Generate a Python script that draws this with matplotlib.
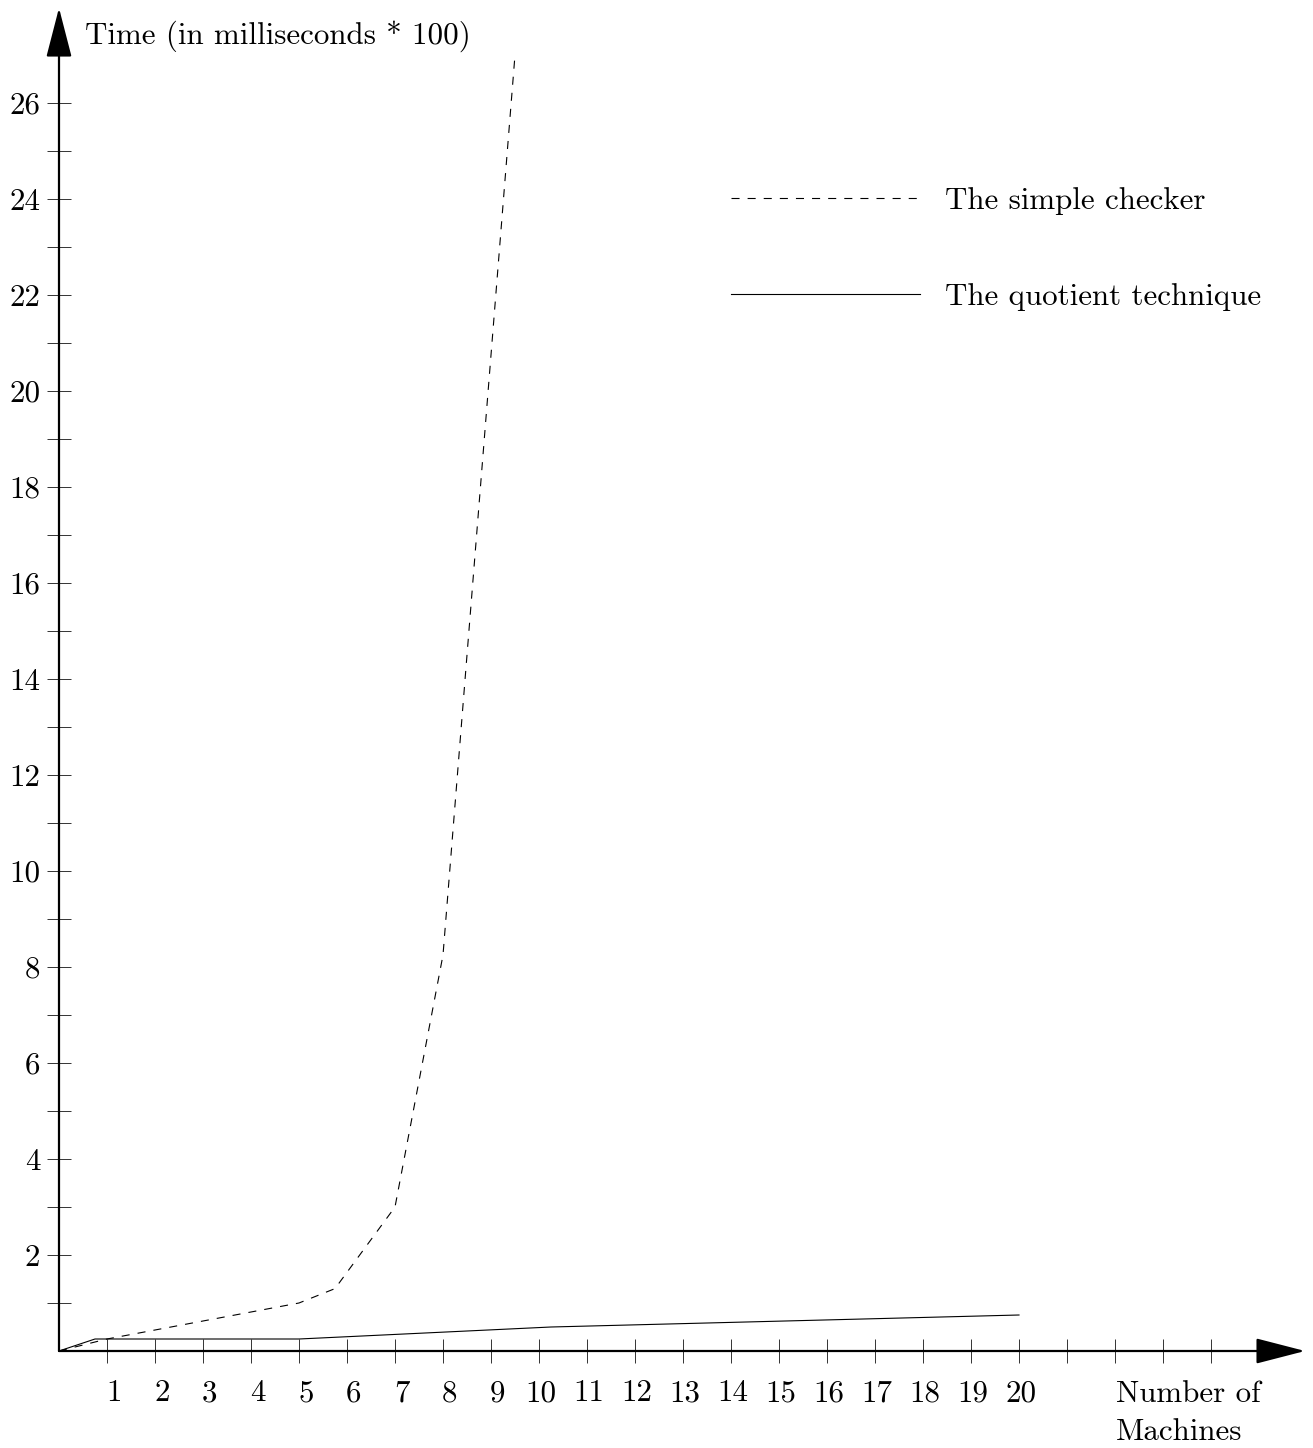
import matplotlib
matplotlib.use('Agg')
import matplotlib.pyplot as plt
from matplotlib.transforms import ScaledTranslation

# Datos
machines_simple = [0, 1, 5, 5.75, 7, 8, 9.5]
time_simple = [0, 0.25, 1.0, 1.3, 3.0, 8.25, 27.0]

machines_quot = [0, 0.75, 5, 10.25, 20]
time_quot = [0, 0.25, 0.25, 0.5, 0.75]

x_ticks = list(range(1, 25))
x_labels = [str(i) for i in range(1, 21)] + [''] * 4
y_ticks = list(range(1, 27))
y_labels = [str(i) if i % 2 == 0 else '' for i in y_ticks]

plt.rcParams['font.family'] = 'cmr10'
plt.rcParams['mathtext.fontset'] = 'cm'
plt.rcParams['axes.formatter.use_mathtext'] = True
plt.rcParams['lines.scale_dashes'] = False

W, H, DPI = 1313, 1448, 100
ux = 48.0  # pixeles por unidad
x0, y0 = 59, 97  # origen en pixeles (desde abajo)

fig = plt.figure(figsize=(W / DPI, H / DPI), dpi=DPI)
ax = fig.add_axes([0, 0, 1, 1])
ax.set_xlim(-x0 / ux, (W - x0) / ux)
ax.set_ylim(-y0 / ux, (H - y0) / ux)

fs = 22.3

# Curvas
ax.plot(machines_simple, time_simple, color='black', lw=0.8, dashes=(5.8, 5.8),
        label='The simple checker')
ax.plot(machines_quot, time_quot, color='black', lw=0.8, label='The quotient technique')

# Ejes con flechas
for sp in ax.spines.values():
    sp.set_color('none')
ax.spines['bottom'].set_position(('data', 0))
ax.spines['left'].set_position(('data', 0))
arrow = dict(arrowstyle='-|>,head_length=3.1,head_width=0.8', color='black', lw=1.6,
             shrinkA=0, shrinkB=0, mutation_scale=10)
ax.annotate('', xy=(25.96, 0), xytext=(0, 0), arrowprops=arrow)
ax.annotate('', xy=(0, 27.98), xytext=(0, 0), arrowprops=arrow)

ax.set_xticks(x_ticks)
ax.set_xticklabels(x_labels)
ax.set_yticks(y_ticks)
ax.set_yticklabels(y_labels)
ax.tick_params(direction='inout', length=17, width=0.7, color='#333333', labelsize=fs)
ax.tick_params(axis='x', pad=12)
ax.tick_params(axis='y', pad=5)

# desplazar un poco las etiquetas del eje x como en el original
for lab in ax.get_xticklabels():
    dx = 7 if len(lab.get_text()) == 1 else 2
    lab.set_transform(lab.get_transform() + ScaledTranslation(dx / DPI, 0, fig.dpi_scale_trans))

ax.text((85 - x0) / ux, (H - 36 - y0) / ux, 'Time (in milliseconds * 100)', fontsize=fs,
        ha='left', va='center')
ax.text((1116 - x0) / ux, -0.6, 'Number of\nMachines', fontsize=fs,
        ha='left', va='top', linespacing=1.45)

ax.legend(loc='upper left', bbox_to_anchor=((731 - x0) / ux, 24.25), bbox_transform=ax.transData,
          frameon=False, fontsize=fs, handlelength=6.1, handletextpad=0.8,
          labelspacing=2.2, borderpad=0, borderaxespad=0)

fig.savefig('out.png', dpi=DPI)
